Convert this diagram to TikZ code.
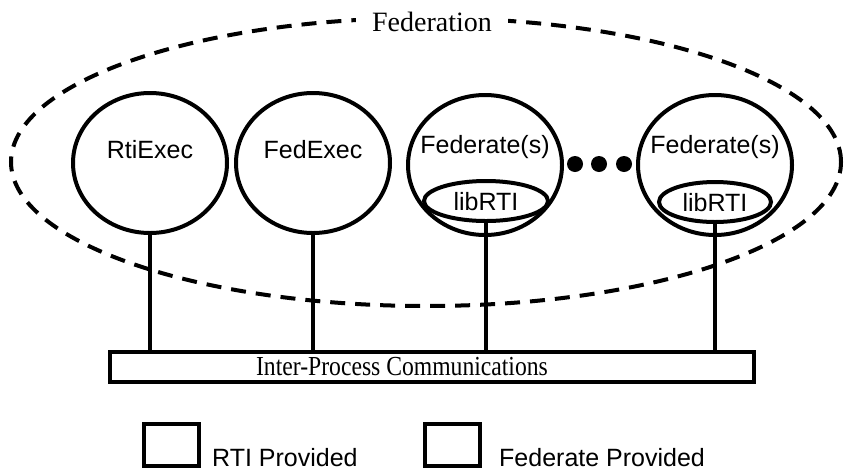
\documentclass[tikz,border=0pt]{standalone}
\usepackage{fontspec}
\setmainfont{Liberation Serif}
\newfontfamily\arialish{Liberation Sans}
\usetikzlibrary{shapes.geometric}
\tikzset{
  proc/.style={draw, line width=4pt, ellipse, minimum width=154pt, minimum height=140pt, inner sep=0pt},
  lib/.style={draw, line width=4pt, ellipse, minimum height=40pt, inner sep=0pt},
  lbl/.style={font=\arialish\fontsize{25}{25}\selectfont, inner sep=0pt},
  stem/.style={line width=3.3pt},
  dot/.style={circle, fill=black, minimum size=16pt, inner sep=0pt},
  keybox/.style={draw, line width=4pt, minimum width=55pt, minimum height=42pt, inner sep=0pt},
}
\begin{document}
\begin{tikzpicture}[x=1pt, y=-1pt]
\useasboundingbox (0,0) rectangle (848,472);
% federation boundary
\node[draw, dashed, dash pattern=on 15pt off 10pt, line width=4pt, ellipse,
      minimum width=830pt, minimum height=288pt] (fedn) at (426,162) {};
\node[fill=white, font=\fontsize{28}{28}\selectfont, inner xsep=16pt, inner ysep=4pt] (fedlbl) at (432,22) {Federation};
% processes
\node[proc] (rti) at (150,163) {};
\node[lbl] (rtit) at (150,150) {RtiExec};
\node[proc] (fex) at (313,163) {};
\node[lbl] (fext) at (313,150) {FedExec};
\node[proc] (fa) at (485,165) {};
\node[lbl] (fat) at (485,147) {Federate(s)};
\node[lib, minimum width=124pt] (la) at (486,201) {};
\node[lbl] (lat) at (486,202) {libRTI};
\node[proc] (fb) at (715,165) {};
\node[lbl] (fbt) at (715,147) {Federate(s)};
\node[lib, minimum width=112pt] (lb) at (715,202) {};
\node[lbl] (lbt) at (715,203) {libRTI};
\node[dot] (d1) at (575,164) {};
\node[dot] (d2) at (599,164) {};
\node[dot] (d3) at (624,164) {};
% communications bus
\node[draw, line width=4pt, minimum width=644pt, minimum height=30pt, inner sep=0pt] (bus) at (432,367) {};
\node[font=\fontsize{27.5}{27.5}\selectfont, xscale=0.86, inner sep=0pt] (bust) at (402,367) {Inter-Process Communications};
\draw[stem] (rti.south) -- (rti.south |- bus.north);
\draw[stem] (fex.south) -- (fex.south |- bus.north);
\draw[stem] (la.south) -- (la.south |- bus.north);
\draw[stem] (lb.south) -- (lb.south |- bus.north);
% legend
\node[keybox] (k1) at (171,445) {};
\node[lbl, anchor=base west] (k1t) at (212,466) {RTI Provided};
\node[keybox] (k2) at (452,445) {};
\node[lbl, anchor=base west] (k2t) at (499,466) {Federate Provided};
\end{tikzpicture}
\end{document}
